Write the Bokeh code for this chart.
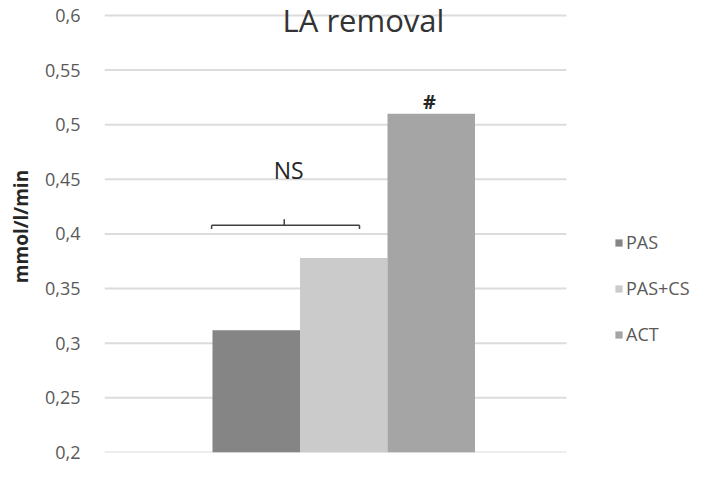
from bokeh.plotting import figure
from bokeh.models import (ColumnDataSource, Range1d, FixedTicker, Legend, LegendItem, Label)
from bokeh.core.properties import value
from bokeh.embed import file_html
from bokeh.resources import INLINE

# ---- data ----
series = ["PAS", "PAS+CS", "ACT"]
values = [0.312, 0.378, 0.510]
positions = [1, 2, 3]
colors = ["#858585", "#cbcbcb", "#a5a5a5"]
y_ticks = [0.2, 0.25, 0.3, 0.35, 0.4, 0.45, 0.5, 0.55, 0.6]
y_tick_labels = ["0,2", "0,25", "0,3", "0,35", "0,4", "0,45", "0,5", "0,55", "0,6"]
title_text = "LA removal"
y_label = "mmol/l/min"
# annotations (data units)
ns_text, ns_x, ns_y = "NS", 1.37, 0.459
hash_text, hash_x, hash_y = "#", 2.98, 0.521
bracket_x0, bracket_x1, bracket_y = 0.49, 2.18, 0.408
bracket_tip_y, bracket_mid_x, bracket_mid_y = 0.4045, 1.32, 0.4135
# plot-area extent (x in category units, y with headroom for the title)
x_start, grid_end, x_end = -0.734, 4.546, 5.997
y_start, y_end = 0.2, 0.6137

FONT = "Open Sans"

src = ColumnDataSource(dict(x=positions, top=values, color=colors, name=series))

p = figure(width=693, height=466, output_backend="svg", toolbar_location=None,
           x_range=Range1d(x_start, x_end), y_range=Range1d(y_start, y_end),
           min_border_left=104, min_border_right=0, min_border_top=0, min_border_bottom=14)
p.outline_line_color = None
p.background_fill_color = "white"
p.border_fill_color = "white"

# gridlines (only across the plot area)
p.segment(x0=[x_start] * len(y_ticks), x1=[grid_end] * len(y_ticks), y0=y_ticks, y1=y_ticks,
          line_color="#dcdcdc", line_width=2)

r = p.vbar(x="x", top="top", bottom=y_start, width=1.0, color="color", source=src, line_color=None)

# axes
p.xaxis.visible = False
p.xgrid.visible = False
p.ygrid.visible = False
p.yaxis.ticker = FixedTicker(ticks=y_ticks)
p.yaxis.major_label_overrides = {t: l for t, l in zip(y_ticks, y_tick_labels)}
p.yaxis.axis_line_color = None
p.yaxis.major_tick_line_color = None
p.yaxis.minor_tick_line_color = None
p.yaxis.major_label_standoff = 18
p.yaxis.major_label_text_font = FONT
p.yaxis.major_label_text_font_size = "18px"
p.yaxis.major_label_text_color = "#595959"
p.yaxis.axis_label = y_label
p.yaxis.axis_label_text_font = FONT
p.yaxis.axis_label_text_font_size = "19px"
p.yaxis.axis_label_text_font_style = "bold"
p.yaxis.axis_label_text_color = "#262626"
p.yaxis.axis_label_standoff = 8

# bracket
p.segment(x0=[bracket_x0, bracket_x0, bracket_x1, bracket_mid_x],
          y0=[bracket_y, bracket_y, bracket_y, bracket_y],
          x1=[bracket_x1, bracket_x0, bracket_x1, bracket_mid_x],
          y1=[bracket_y, bracket_tip_y, bracket_tip_y, bracket_mid_y],
          line_color="#404040", line_width=1.5)

p.text(x=[ns_x], y=[ns_y], text=[ns_text], text_font=value(FONT), text_font_size="23px",
       text_color="#262626", text_align="center", text_baseline="middle")
p.text(x=[hash_x], y=[hash_y], text=[hash_text], text_font=value(FONT), text_font_size="20px",
       text_color="#262626", text_align="center", text_baseline="middle", text_font_style="bold")

# title
p.add_layout(Label(x=259, y=433, x_units="screen", y_units="screen", text=title_text,
                   text_font=FONT, text_font_size="31px", text_color="#333333",
                   text_align="center", text_baseline="alphabetic"))

# legend
items = [LegendItem(label=series[i], renderers=[r], index=i) for i in range(len(series))]
legend = Legend(items=items, location=(510, 106), orientation="vertical",
                glyph_width=9, glyph_height=9, label_text_font=FONT,
                label_text_font_size="18px", label_text_color="#595959",
                spacing=22, padding=0, margin=0, border_line_color=None,
                background_fill_alpha=0, label_standoff=3, label_height=20)
p.add_layout(legend, "center")

open("out.html", "w").write(file_html(p, INLINE))
